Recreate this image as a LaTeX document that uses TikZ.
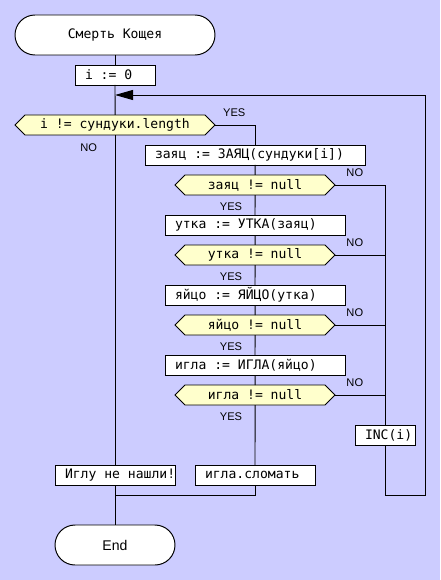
\documentclass[tikz,border=0pt]{standalone}
\usepackage{fontspec}
\setmainfont{Liberation Sans}
\setmonofont{DejaVu Sans Mono}
\usepackage{tikz}
\usetikzlibrary{arrows.meta,positioning,shapes.symbols}
\definecolor{pagebg}{HTML}{CCCCFF}
\definecolor{condfill}{HTML}{FFFFCC}

\begin{document}
\begin{tikzpicture}[
  line width=0.7pt,
  term/.style={draw, fill=white, rounded corners=0.5cm, minimum height=1cm, outer sep=0pt, align=center},
  proc/.style={draw, fill=white, minimum height=0.5cm, inner xsep=0.25cm, inner ysep=1pt, outer sep=0pt, text width=#1, align=left, execute at begin node={\spaceskip=0pt\xspaceskip=0pt\relax}, font=\fontsize{9.3}{11}\selectfont\ttfamily},
  cond/.style={draw, fill=condfill, signal, signal to=east and west, signal pointer angle=90, minimum width=#1, minimum height=0.5cm, inner ysep=1pt, outer sep=0pt, font=\fontsize{9.3}{11}\selectfont\ttfamily},
  lbl/.style={inner sep=0pt, font=\fontsize{7.9}{9}\selectfont},
  arr/.style={-{Triangle[length=0.45cm,width=0.25cm]}}
]
  \fill[pagebg] (0,0) rectangle (11,-14.5);

  \node[term, minimum width=5cm, font=\fontsize{9.3}{11}\selectfont\ttfamily] (start) at (2.875,-0.875) {Смерть Кощея};
  \node[proc=1.5cm, below=0.25cm of start] (init) {i := 0};
  \node[cond=5cm, below=0.75cm of init] (chk) {i != сундуки.length};

  \node[proc=5cm] (hare) at (6.375,-3.875) {заяц := ЗАЯЦ(сундуки[i])};
  \node[cond=4cm, below=0.25cm of hare] (chkhare) {заяц != null};
  \node[proc=4cm, below=0.5cm of chkhare] (duck) {утка := УТКА(заяц)};
  \node[cond=4cm, below=0.25cm of duck] (chkduck) {утка != null};
  \node[proc=4cm, below=0.5cm of chkduck] (egg) {яйцо := ЯЙЦО(утка)};
  \node[cond=4cm, below=0.25cm of egg] (chkegg) {яйцо != null};
  \node[proc=4cm, below=0.5cm of chkegg] (needle) {игла := ИГЛА(яйцо)};
  \node[cond=4cm, below=0.25cm of needle] (chkneedle) {игла != null};
  \node[proc=2.5cm, below=1.5cm of chkneedle] (brk) {игла.сломать};

  \node[proc=1cm] (inc) at (9.625,-10.875) {INC(i)};
  \node[proc=2.5cm] (nf) at (2.875,-11.875) {\makebox[2.5cm][l]{Иглу не нашли!}};
  \node[term, minimum width=3cm, below=1cm of nf] (fin) {End};

  \coordinate[below=0.25cm of init.south] (join);
  \coordinate[below=0.25cm of nf.south] (merge);
  \coordinate[below right=1.25cm and 1cm of inc.south] (loopr);

  % main column
  \draw (start) -- (init);
  \draw (init) -- (chk);
  \draw (chk.south) -- (nf.north);
  \draw (nf.south) -- (fin.north);
  \draw (chk.east) -| (hare.north);
  \draw (hare) -- (chkhare);
  \draw (chkhare) -- (duck);
  \draw (duck) -- (chkduck);
  \draw (chkduck) -- (egg);
  \draw (egg) -- (chkegg);
  \draw (chkegg) -- (needle);
  \draw (needle) -- (chkneedle);
  \draw (chkneedle) -- (brk);
  \draw (brk.south) |- (merge);

  % NO branches and loop back
  \draw (chkhare.east) -| (inc.north);
  \foreach \c in {chkduck,chkegg,chkneedle}
    \draw (\c.east) -- (\c.east -| inc.north);
  \draw[arr] (inc.south) |- (loopr) |- (join);

  % labels
  \node[lbl, above right=0.2cm and 0.19cm of chk.east] (yes-chk) {YES};
  \node[lbl, below left=0.2cm and 0.44cm of chk.south] (no-chk) {NO};
  \foreach \c in {chkhare,chkduck,chkegg,chkneedle} {
    \node[lbl, above right=0.2cm and 0.275cm of \c.east] (no-\c) {NO};
    \node[lbl, below left=0.175cm and 0.31cm of \c.south] (yes-\c) {YES};
  }
\end{tikzpicture}
\end{document}
